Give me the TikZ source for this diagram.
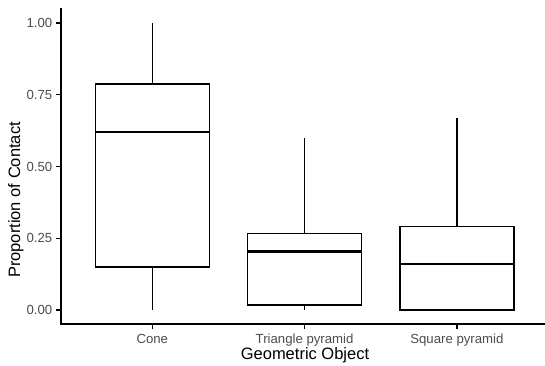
\documentclass[tikz,border=0pt]{standalone}
\usepackage{fontspec}
\setmainfont{Liberation Sans}
\definecolor{tickgray}{HTML}{4D4D4D}
\begin{document}
\begin{tikzpicture}[x=1pt,y=1pt,
  boxline/.style={draw=black,line width=1.4pt,fill=white},
  medline/.style={draw=black,line width=2.8pt},
  whisk/.style={draw=black,line width=1.4pt},
  axisline/.style={draw=black,line width=1.4pt},
  ticklab/.style={text=tickgray,font=\fontsize{13.2}{15}\selectfont,inner sep=0pt},
  axtitle/.style={text=black,font=\fontsize{16.5}{19}\selectfont,inner sep=0pt}]
\useasboundingbox (0,0) rectangle (545,366);
\fill[white] (0,0) rectangle (545,366);
% y(v) = 56 + 287 v
% Cone
\draw[whisk] (152.3,{56+287*0.787}) -- (152.3,{56+287*1.0});
\draw[whisk] (152.3,{56+287*0.15}) -- (152.3,{56+287*0.0});
\draw[boxline] (95.2,{56+287*0.15}) rectangle (209.4,{56+287*0.787});
\draw[medline] (95.2,{56+287*0.62}) -- (209.4,{56+287*0.62});
% Triangle pyramid
\draw[whisk] (304.6,{56+287*0.267}) -- (304.6,{56+287*0.598});
\draw[whisk] (304.6,{56+287*0.017}) -- (304.6,{56+287*0.0});
\draw[boxline] (247.5,{56+287*0.017}) rectangle (361.7,{56+287*0.267});
\draw[medline] (247.5,{56+287*0.204}) -- (361.7,{56+287*0.204});
% Square pyramid
\draw[whisk] (456.9,{56+287*0.29}) -- (456.9,{56+287*0.67});
\draw[boxline] (399.8,{56+287*0.0}) rectangle (514.0,{56+287*0.29});
\draw[medline] (399.8,{56+287*0.16}) -- (514.0,{56+287*0.16});
% axes
\draw[axisline] (61,358) -- (61,42) -- (545,42);
% y ticks
\foreach \v/\t in {0/0.00,0.25/0.25,0.5/0.50,0.75/0.75,1/1.00}{
  \draw[axisline] (56,{56+287*\v}) -- (61,{56+287*\v});
  \node[ticklab,anchor=east] (yl\t) at (52.5,{56+287*\v}) {\t};
}
% x ticks
\foreach \x/\n/\t in {152.3/c/Cone,304.6/t/Triangle pyramid,456.9/s/Square pyramid}{
  \draw[axisline] (\x,42) -- (\x,37);
  \node[ticklab,anchor=base] (xl\n) at (\x,22.5) {\t};
}
\node[axtitle,anchor=base] (xt) at (305,6) {Geometric Object};
\node[axtitle,anchor=base,rotate=90] (yt) at (20,166) {Proportion of Contact};
\end{tikzpicture}
\end{document}
